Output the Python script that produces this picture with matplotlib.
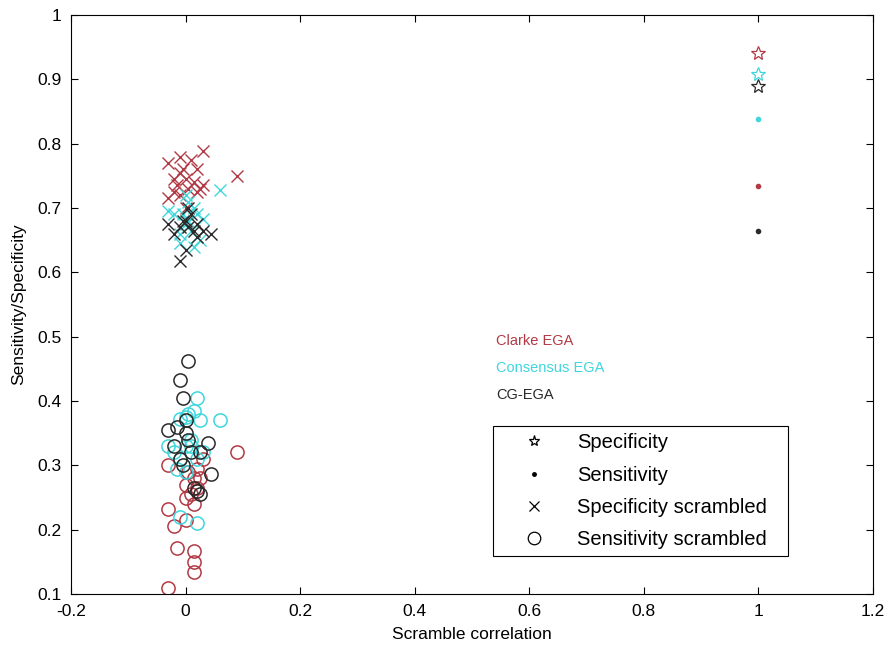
import matplotlib.pyplot as plt
from matplotlib.lines import Line2D

plt.rcParams['font.family'] = ['Liberation Sans', 'DejaVu Sans']

# colours of the three grids
groups = ['Clarke EGA', 'Consensus EGA', 'CG-EGA']
colors = ['#b23a44', '#3fd6dc', '#2a2a2a']

# true (unscrambled) values at correlation 1
spec_true = [0.941, 0.908, 0.890]
sens_true = [0.734, 0.838, 0.664]

# scrambled specificity (x = correlation, y = specificity)
spec_scr_x = [
    [-0.03, -0.02, -0.01, -0.005, 0.0, 0.01, 0.015, 0.03, -0.03, -0.02,
     -0.01, 0.005, 0.02, 0.03, 0.025, 0.09, 0.0, -0.01, 0.02, -0.015],
    [-0.03, -0.02, 0.0, 0.005, 0.015, 0.02, 0.06, 0.03, -0.01, 0.0,
     0.01, 0.02, -0.01, 0.015, 0.025, 0.005, -0.005],
    [-0.03, -0.02, -0.01, 0.0, 0.005, 0.01, 0.015, 0.02, 0.03, 0.045,
     -0.01, 0.0, 0.005, -0.005, 0.02],
]
spec_scr_y = [
    [0.770, 0.745, 0.780, 0.760, 0.745, 0.775, 0.740, 0.788, 0.715, 0.725,
     0.720, 0.730, 0.725, 0.735, 0.730, 0.750, 0.700, 0.755, 0.760, 0.735],
    [0.695, 0.690, 0.720, 0.710, 0.700, 0.690, 0.728, 0.683, 0.660, 0.675,
     0.665, 0.655, 0.645, 0.640, 0.650, 0.680, 0.690],
    [0.675, 0.660, 0.670, 0.680, 0.700, 0.690, 0.665, 0.655, 0.665, 0.660,
     0.618, 0.635, 0.670, 0.680, 0.675],
]

# scrambled sensitivity
sens_scr_x = [
    [-0.03, -0.03, -0.02, -0.015, -0.03, 0.015, 0.015, 0.015, 0.0, 0.0,
     0.0, 0.01, 0.015, 0.02, 0.025, 0.03, 0.09, 0.015, 0.005, 0.02],
    [0.0, 0.015, 0.02, 0.06, -0.01, 0.005, 0.025, -0.03, -0.02, -0.01,
     0.0, 0.01, 0.02, -0.015, 0.0, 0.02, -0.01, 0.01, 0.03],
    [0.005, -0.01, -0.005, -0.03, -0.015, 0.0, 0.0, 0.005, -0.02, -0.01,
     -0.005, 0.04, 0.045, 0.02, 0.015, 0.025, 0.01, 0.025],
]
sens_scr_y = [
    [0.300, 0.232, 0.205, 0.172, 0.110, 0.167, 0.150, 0.135, 0.215, 0.250,
     0.270, 0.255, 0.240, 0.265, 0.280, 0.310, 0.320, 0.280, 0.290, 0.295],
    [0.375, 0.385, 0.405, 0.370, 0.372, 0.380, 0.370, 0.330, 0.320, 0.310,
     0.330, 0.330, 0.310, 0.295, 0.290, 0.210, 0.220, 0.340, 0.320],
    [0.462, 0.432, 0.405, 0.355, 0.360, 0.370, 0.350, 0.340, 0.330, 0.310,
     0.300, 0.335, 0.287, 0.260, 0.265, 0.255, 0.320, 0.320],
]

fig = plt.figure(figsize=(8.94, 6.49), dpi=100)
ax = fig.add_axes([0.0794, 0.0847, 0.8971, 0.8922])

for i, c in enumerate(colors):
    ax.plot(sens_scr_x[i], sens_scr_y[i], 'o', mfc='none', mec=c, ms=9.5, mew=1.1)
    ax.plot(spec_scr_x[i], spec_scr_y[i], 'x', color=c, ms=8, mew=1.0)
    ax.plot(1, spec_true[i], '*', mfc='none', mec=c, ms=10, mew=0.9)
    ax.plot(1, sens_true[i], '.', color=c, ms=6)

ax.set_xlim(-0.2, 1.2)
ax.set_ylim(0.1, 1.0)
ax.set_xticks([-0.2, 0, 0.2, 0.4, 0.6, 0.8, 1, 1.2])
ax.set_xticklabels(['-0.2', '0', '0.2', '0.4', '0.6', '0.8', '1', '1.2'])
ax.set_yticks([0.1, 0.2, 0.3, 0.4, 0.5, 0.6, 0.7, 0.8, 0.9, 1.0])
ax.set_yticklabels(['0.1', '0.2', '0.3', '0.4', '0.5', '0.6', '0.7', '0.8', '0.9', '1'])
ax.tick_params(direction='in', top=True, right=True, labelsize=12.5, length=5, pad=7)
ax.set_xlabel('Scramble correlation', fontsize=12.5, labelpad=6)
ax.set_ylabel('Sensitivity/Specificity', fontsize=12.5, labelpad=8)

for i, (name, c) in enumerate(zip(groups, colors)):
    ax.text(0.542, 0.494 - i * 0.042, name, color=c, fontsize=10.5, va='center')

handles = [
    Line2D([], [], ls='none', marker='*', mfc='none', mec='k', ms=8, mew=0.9),
    Line2D([], [], ls='none', marker='.', color='k', ms=5),
    Line2D([], [], ls='none', marker='x', color='k', ms=7, mew=0.9),
    Line2D([], [], ls='none', marker='o', mfc='none', mec='k', ms=9, mew=0.9),
]
labels = ['Specificity', 'Sensitivity', 'Specificity scrambled', 'Sensitivity scrambled']
leg = ax.legend(handles, labels, loc='lower left', bbox_to_anchor=(0.526, 0.066, 0.368, 0.221),
                mode='expand', borderaxespad=0, fontsize=14.5, fancybox=False, edgecolor='k',
                framealpha=1, handletextpad=0.45, borderpad=0.35, labelspacing=0.65,
                handlelength=3.4)
leg.get_frame().set_linewidth(0.8)

fig.savefig('out.png', dpi=100)
